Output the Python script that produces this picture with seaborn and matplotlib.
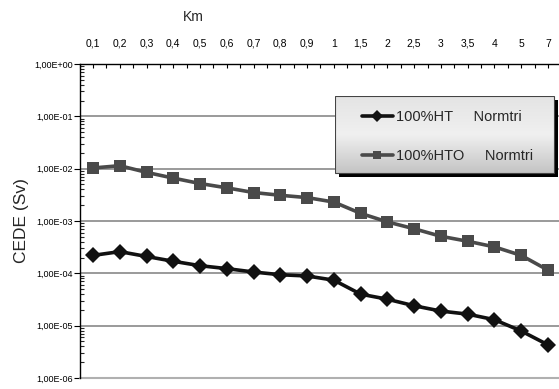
import numpy as np
import pandas as pd
import seaborn as sns
import matplotlib.pyplot as plt
from matplotlib import font_manager
from matplotlib.lines import Line2D
from matplotlib.patches import Rectangle
from matplotlib.ticker import FixedLocator, LogLocator, FuncFormatter, NullFormatter

# distances (km) as printed on the chart, and the two dose series
km_labels = ["0,1", "0,2", "0,3", "0,4", "0,5", "0,6", "0,7", "0,8", "0,9",
             "1", "1,5", "2", "2,5", "3", "3,5", "4", "5", "7"]
ht_dose = [2.2e-4, 2.6e-4, 2.1e-4, 1.7e-4, 1.4e-4, 1.23e-4, 1.06e-4, 9.4e-5, 8.9e-5,
           7.4e-5, 4.0e-5, 3.2e-5, 2.4e-5, 1.9e-5, 1.66e-5, 1.3e-5, 7.9e-6, 4.3e-6]
hto_dose = [1.03e-2, 1.14e-2, 8.5e-3, 6.6e-3, 5.2e-3, 4.3e-3, 3.5e-3, 3.1e-3, 2.8e-3,
            2.3e-3, 1.4e-3, 9.6e-4, 7.1e-4, 5.1e-4, 4.1e-4, 3.2e-4, 2.2e-4, 1.15e-4]
series_names = ["100%HT", "100%HTO"]
legend_labels = ["100%HT     Normtri", "100%HTO     Normtri"]
colors = ["#111111", "#4a4a4a"]

pos = np.arange(len(km_labels))
df = pd.DataFrame({
    "pos": np.concatenate([pos, pos]),
    "dose": ht_dose + hto_dose,
    "serie": [series_names[0]] * len(pos) + [series_names[1]] * len(pos),
})

sns.set_style("white")
installed = {f.name for f in font_manager.fontManager.ttflist}
narrow = "Liberation Sans Narrow" if "Liberation Sans Narrow" in installed else "Liberation Sans"
plt.rcParams["font.family"] = ["Liberation Sans", "DejaVu Sans"]

W, H = 559, 389
fig = plt.figure(figsize=(W / 100, H / 100), dpi=100)
ax = fig.add_axes([79.6 / W, 1 - 378 / H, (561.4 - 79.6) / W, (378 - 64) / H])

sns.lineplot(data=df, x="pos", y="dose", hue="serie", style="serie",
             palette=colors, markers=["D", "s"], dashes=False,
             linewidth=2.6, markersize=8, markeredgewidth=0, ax=ax, legend=False)

ax.set_yscale("log")
ax.set_ylim(1e-6, 1)
ax.set_xlim(-0.5, len(km_labels) - 0.5)

# gridlines at each decade
for e in range(-5, 0):
    ax.axhline(10.0 ** e, color="#7f7f7f", lw=1.1, zorder=0)

# top x axis
ax.xaxis.tick_top()
ax.xaxis.set_label_position("top")
ax.set_xticks(pos)
ax.set_xticklabels(km_labels, fontsize=7.5, family=narrow)
ax.xaxis.set_minor_locator(FixedLocator(np.arange(-0.5, len(km_labels), 1.0)))
ax.tick_params(axis="x", which="both", direction="in", length=3, width=0.8,
               top=True, bottom=False, pad=11, colors="black")
ax.set_xlabel("")
fig.text(193 / W, 1 - 17 / H, "Km", fontsize=10, family=narrow, ha="center", va="center")

# y axis
ax.yaxis.set_major_locator(LogLocator(base=10, numticks=10))
ax.yaxis.set_minor_locator(LogLocator(base=10, subs=np.arange(2, 10), numticks=10))
ax.yaxis.set_minor_formatter(NullFormatter())
ax.yaxis.set_major_formatter(FuncFormatter(lambda v, p: ("%.2E" % v).replace(".", ",")))
ax.tick_params(axis="y", which="major", direction="out", length=4, width=0.8,
               labelsize=6.5, left=True, pad=1, colors="black")
for t in ax.get_yticklabels():
    t.set_family(narrow)
ax.tick_params(axis="y", which="minor", direction="in", length=3, width=0.8, left=True)
ax.set_ylabel("")
fig.text(22 / W, 1 - 221 / H, "CEDE (Sv)", fontsize=12.5, rotation=90, ha="center", va="center")

for s in ["right", "bottom"]:
    ax.spines[s].set_visible(False)
for s in ["left", "top"]:
    ax.spines[s].set_color("black")
    ax.spines[s].set_linewidth(1.0)
ax.axhline(1e-6, color="#b0b0b0", lw=1.5, clip_on=False)

# legend box drawn in a small pixel-unit axes: black shadow under a grey gradient
lx0, lx1, ly0, ly1 = 335, 554, 96, 173
bw, bh, off = lx1 - lx0, ly1 - ly0, 4
lax = fig.add_axes([lx0 / W, 1 - (ly1 + off) / H, (bw + off) / W, (bh + off) / H], zorder=4)
lax.axis("off")
lax.add_patch(Rectangle((off, 0), bw, bh, facecolor="black", edgecolor="none", zorder=1))
grad = np.linspace(0, 1, 100).reshape(-1, 1)
lax.imshow(grad, aspect="auto", cmap=sns.blend_palette(["#e4e4e4", "#f0f0f0", "#c4c4c4"], as_cmap=True),
           extent=[0, bw, off, bh + off], origin="upper", zorder=2)
lax.add_patch(Rectangle((0, off), bw, bh, facecolor="none", edgecolor="#444444", lw=0.8, zorder=3))
lax.set_xlim(0, bw + off)
lax.set_ylim(0, bh + off)

handles = [Line2D([], [], color=colors[0], lw=2.6, marker="D", markersize=6, markeredgewidth=0),
           Line2D([], [], color=colors[1], lw=2.6, marker="s", markersize=6, markeredgewidth=0)]
fig.legend(handles, legend_labels, loc="upper left", bbox_to_anchor=(362 / W, 1 - 110 / H),
           bbox_transform=fig.transFigure, frameon=False, prop={"family": narrow, "size": 10.5},
           handlelength=2.1, handletextpad=0.2, labelspacing=1.7, borderpad=0, borderaxespad=0)

fig.savefig("out.png", dpi=100)
